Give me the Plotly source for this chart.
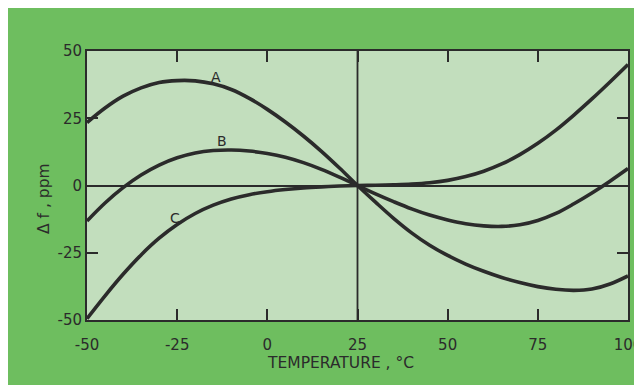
import plotly.graph_objects as go

# temperatura (graus C) e desvio de frequencia (ppm)
temperatura = [-50, -45, -40, -35, -30, -25, -20, -15, -10, -5, 0, 5, 10, 15, 20, 25,
               30, 35, 40, 45, 50, 55, 60, 65, 70, 75, 80, 85, 90, 95, 100]
curva_a = [23.4, 28.8, 33.2, 36.3, 38.3, 39.0, 38.9, 37.8, 35.7, 32.4, 28.3, 23.6, 18.4, 12.7, 6.5, 0,
           -6.2, -12.2, -17.6, -22.2, -26.0, -29.2, -31.9, -34.2, -36.1, -37.6, -38.6, -39.0, -38.5, -36.6, -33.6]
curva_b = [-13.2, -6.5, -0.8, 3.9, 7.6, 10.3, 12.1, 13.0, 13.2, 12.8, 11.9, 10.5, 8.5, 6.0, 3.1, 0,
           -3.1, -6.0, -8.7, -11.0, -12.8, -14.2, -15.0, -15.2, -14.6, -13.0, -10.4, -6.8, -2.8, 1.6, 6.3]
curva_c = [-49.5, -41.0, -33.0, -25.8, -19.6, -14.5, -10.4, -7.3, -5.0, -3.4, -2.3, -1.5, -0.9, -0.5, -0.2, 0,
           0.1, 0.25, 0.5, 1.0, 1.9, 3.3, 5.3, 8.0, 11.5, 15.7, 20.6, 26.2, 32.2, 38.5, 45.0]

rotulos = ['A', 'B', 'C']
rotulos_x = [-14.3, -12.6, -25.6]
rotulos_y = [40.5, 16.7, -11.9]

ticks_x = [-50, -25, 0, 25, 50, 75, 100]
ticks_y = [-50, -25, 0, 25, 50]

cor_linha = '#2b2b2b'
verde = '#6ebe5f'
verde_claro = '#c2debd'
fonte = 'DejaVu Sans'

fig = go.Figure()
for serie in [curva_a, curva_b, curva_c]:
    fig.add_trace(go.Scatter(x=temperatura, y=serie, mode='lines',
                             line=dict(color=cor_linha, width=3.6, shape='spline', smoothing=1.0),
                             showlegend=False, hoverinfo='skip'))

for r, xr, yr in zip(rotulos, rotulos_x, rotulos_y):
    fig.add_annotation(x=xr, y=yr, text=r, showarrow=False,
                       font=dict(family=fonte, size=14, color=cor_linha))

# linha vertical em 25 C
fig.add_shape(type='line', x0=25, x1=25, y0=-50, y1=50, xref='x', yref='y',
              line=dict(color=cor_linha, width=1.8), layer='above')

fig.add_annotation(xref='paper', yref='paper', x=0.4695, y=-0.2007, text='TEMPERATURE , °C',
                   showarrow=False, font=dict(family=fonte, size=15.5, color=cor_linha))
fig.add_annotation(xref='paper', yref='paper', x=-0.1, y=0.4535, text='Δ f , ppm', textangle=-90,
                   showarrow=False, font=dict(family=fonte, size=15.5, color=cor_linha))

# a pagina tem 8px de margem no body, por isso 634x377
fig.update_layout(
    width=634, height=377,
    margin=dict(l=79, r=14, t=43, b=65, autoexpand=False),
    paper_bgcolor=verde,
    plot_bgcolor=verde_claro,
    font=dict(family=fonte, size=15, color=cor_linha),
    xaxis=dict(
        range=[-50, 100],
        tickmode='array',
        tickvals=ticks_x,
        ticktext=[str(v) for v in ticks_x],
        ticks='inside',
        ticklen=11,
        tickwidth=1.8,
        tickcolor=cor_linha,
        showline=True,
        linecolor=cor_linha,
        linewidth=2,
        mirror='ticks',
        showgrid=False,
        zeroline=False,
        ticklabelstandoff=10,
        ticklabeloverflow='allow',
        automargin=False,
    ),
    yaxis=dict(
        range=[-50, 50],
        tickmode='array',
        tickvals=ticks_y,
        ticktext=[str(v) for v in ticks_y],
        ticks='inside',
        ticklen=11,
        tickwidth=1.8,
        tickcolor=cor_linha,
        showline=True,
        linecolor=cor_linha,
        linewidth=2,
        mirror='ticks',
        showgrid=False,
        zeroline=True,
        zerolinecolor=cor_linha,
        zerolinewidth=1.8,
        ticklabelstandoff=0,
        automargin=False,
    ),
)

fig.write_html("out.html")
